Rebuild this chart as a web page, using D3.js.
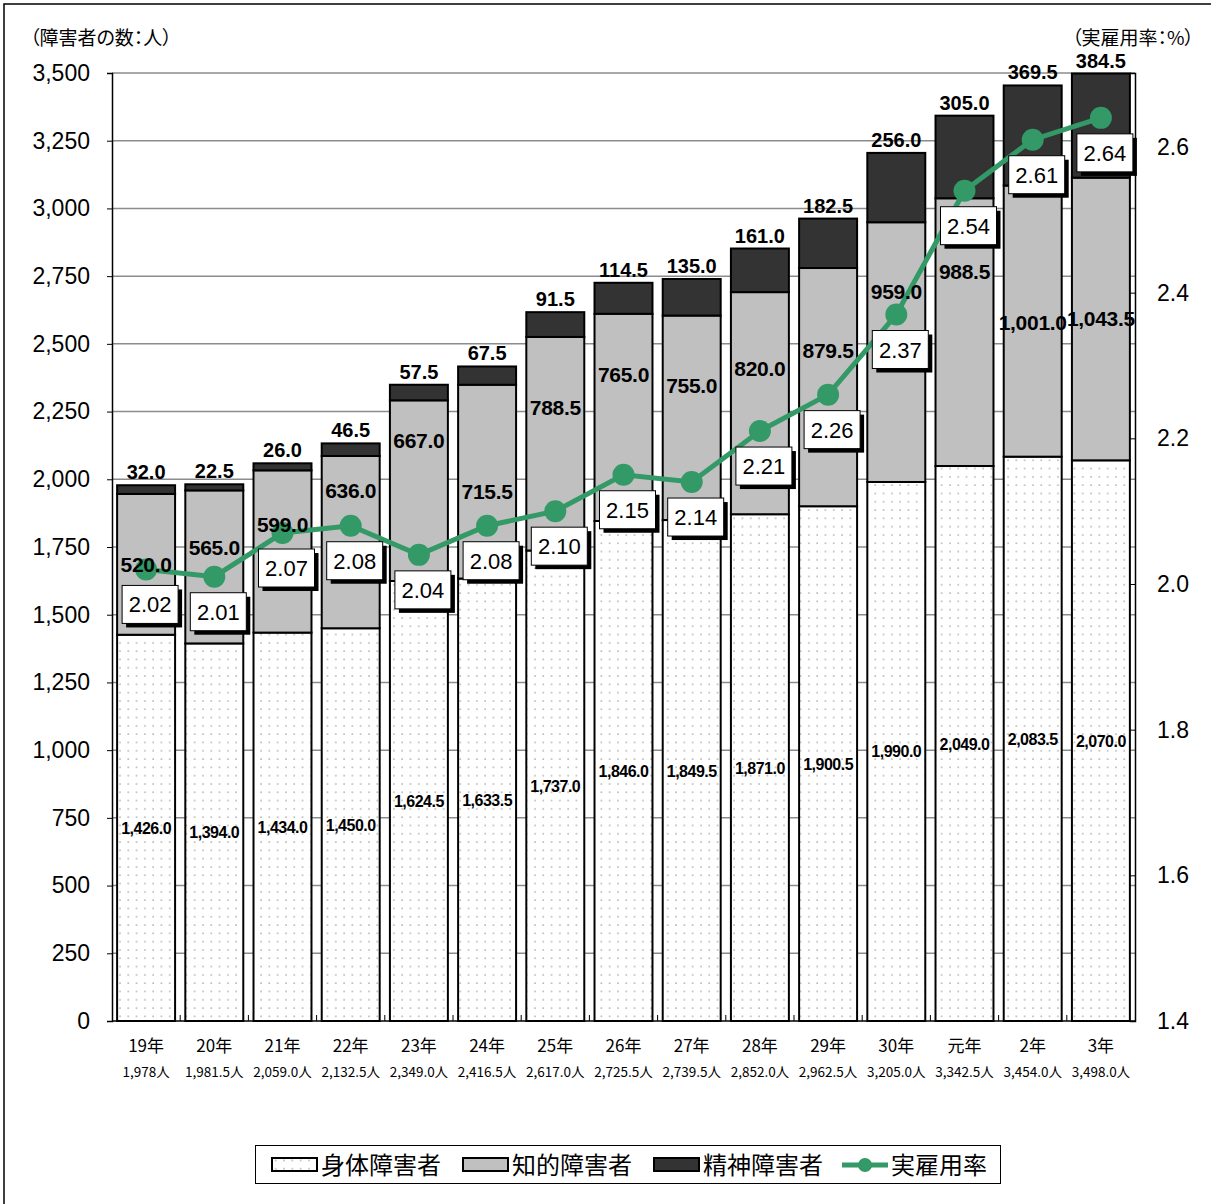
<!DOCTYPE html>
<html><head><meta charset="utf-8">
<script src="https://cdn.jsdelivr.net/npm/d3@7"></script>
<style>
body{margin:0;background:#fff;}
text{font-family:"Liberation Sans",Arial,sans-serif;}
.jp{font-family:"Noto Sans CJK JP","Noto Sans",sans-serif;font-feature-settings:"palt";}
</style></head>
<body><svg id="c" width="1211" height="1204"></svg>
<script>
const categories = ["19年","20年","21年","22年","23年","24年","25年","26年","27年","28年","29年","30年","元年","2年","3年"];
const totalLabels = ["1,978人","1,981.5人","2,059.0人","2,132.5人","2,349.0人","2,416.5人","2,617.0人","2,725.5人","2,739.5人","2,852.0人","2,962.5人","3,205.0人","3,342.5人","3,454.0人","3,498.0人"];
const physical = [1426,1394,1434,1450,1624.5,1633.5,1737,1846,1849.5,1871,1900.5,1990,2049,2083.5,2070];
const intellectual = [520,565,599,636,667,715.5,788.5,765,755,820,879.5,959,988.5,1001,1043.5];
const mental = [32,22.5,26,46.5,57.5,67.5,91.5,114.5,135,161,182.5,256,305,369.5,384.5];
const rate = [2.02,2.01,2.07,2.08,2.04,2.08,2.10,2.15,2.14,2.21,2.26,2.37,2.54,2.61,2.64];
const leftTicks = [0,250,500,750,1000,1250,1500,1750,2000,2250,2500,2750,3000,3250,3500];
const rightTicks = [1.4,1.6,1.8,2.0,2.2,2.4,2.6];
const seriesNames = ["身体障害者","知的障害者","精神障害者","実雇用率"];
// layout: manual vertical shift (px) of the intellectual labels relative to segment centre
const intelLabelShift = [1,-19,-26,-51,-50,10,-36,-42,-32,-34,-36,-60,-60,2,0];

const svg = d3.select("#c");
const L = 112, R = 1135, T = 73, B = 1021;
const x = d3.scaleBand().domain(categories).range([L,R]).paddingInner(0.15).paddingOuter(0.075);
const y = d3.scaleLinear().domain([0,3500]).range([B,T]);
const y2 = d3.scaleLinear().domain([1.4,1.4+1.2*(B-T)/874]).range([B,T]);
const green = "#339966";

// outer frame
svg.append("rect").attr("x",4).attr("y",4).attr("width",1300).attr("height",1300)
  .attr("fill","none").attr("stroke","#000").attr("stroke-width",1.5);

// pattern
const defs = svg.append("defs");
const pat = defs.append("pattern").attr("id","dots").attr("patternUnits","userSpaceOnUse")
  .attr("width",8.3).attr("height",8.3);
pat.append("rect").attr("width",8.3).attr("height",8.3).attr("fill","#fff");
pat.append("rect").attr("x",3).attr("y",3).attr("width",1.6).attr("height",1.6).attr("fill","#b8b8b8");

// gridlines
svg.append("g").selectAll("line").data(leftTicks.filter(d=>d>0)).join("line")
  .attr("x1",L).attr("x2",R).attr("y1",d=>y(d)).attr("y2",d=>y(d))
  .attr("stroke","#8c8c8c").attr("stroke-width",1.5);

// left axis
const gl = svg.append("g").attr("transform",`translate(${L},0)`)
  .call(d3.axisLeft(y).tickValues(leftTicks).tickSize(5).tickPadding(17).tickFormat(d3.format(",")));
gl.select(".domain").attr("stroke","#000").attr("stroke-width",1.5);
gl.selectAll(".tick line").attr("stroke","#000");
gl.selectAll("text").attr("font-size",23).attr("fill","#000").attr("font-family","Liberation Sans, Arial, sans-serif");

// right axis
const gr = svg.append("g").attr("transform",`translate(${R},0)`)
  .call(d3.axisRight(y2).tickValues(rightTicks).tickSize(-5).tickPadding(22).tickFormat(d3.format(".1f")));
gr.select(".domain").attr("stroke","#000").attr("stroke-width",1.5);
gr.selectAll(".tick line").attr("stroke","#000");
gr.selectAll("text").attr("font-size",23).attr("fill","#000").attr("font-family","Liberation Sans, Arial, sans-serif");

// bars
const stackData = categories.map((c,i)=>({c,p:physical[i],n:intellectual[i],m:mental[i]}));
const segs = [
  {key:"p", base:d=>0, fill:"url(#dots)"},
  {key:"n", base:d=>d.p, fill:"#c0c0c0"},
  {key:"m", base:d=>d.p+d.n, fill:"#333333"}
];
segs.forEach(s=>{
  svg.append("g").selectAll("rect").data(stackData).join("rect")
    .attr("x",d=>x(d.c)).attr("width",x.bandwidth())
    .attr("y",d=>y(s.base(d)+d[s.key]))
    .attr("height",d=>y(s.base(d))-y(s.base(d)+d[s.key]))
    .attr("fill",s.fill).attr("stroke","#000").attr("stroke-width",2);
});

// x axis baseline and separators
svg.append("line").attr("x1",L).attr("x2",R).attr("y1",B).attr("y2",B).attr("stroke","#000").attr("stroke-width",1.5);
const step = x.step();
const sepX = d => x(categories[d]) - x.paddingInner()*step/2;
svg.append("g").selectAll("line").data(d3.range(1,categories.length)).join("line")
  .attr("x1",sepX).attr("x2",sepX)
  .attr("y1",B).attr("y2",B-6).attr("stroke","#000").attr("stroke-width",1);

// category labels
const cx = c=>x(c)+x.bandwidth()/2;
svg.append("g").selectAll("text").data(categories).join("text")
  .attr("class","jp").attr("x",cx).attr("y",1052).attr("text-anchor","middle")
  .attr("font-size",17).text(d=>d);
svg.append("g").selectAll("text").data(categories).join("text")
  .attr("class","jp").attr("x",cx).attr("y",1077).attr("text-anchor","middle")
  .attr("font-size",13.5).text((d,i)=>totalLabels[i]);

// value labels
svg.append("g").selectAll("text").data(stackData).join("text")
  .attr("x",d=>cx(d.c)).attr("y",d=>y(d.p/2)+6).attr("text-anchor","middle")
  .attr("font-size",16).attr("font-weight","bold").attr("letter-spacing",-0.5)
  .text(d=>d3.format(",.1f")(d.p));
svg.append("g").selectAll("text").data(stackData).join("text")
  .attr("x",d=>cx(d.c)).attr("y",d=>y(d.p+d.m+d.n)-6).attr("text-anchor","middle")
  .attr("font-size",20).attr("font-weight","bold")
  .text(d=>d3.format(",.1f")(d.m));

// rate line
const pts = categories.map((c,i)=>({c,v:rate[i]}));
svg.append("path").datum(pts)
  .attr("d",d3.line().x(d=>cx(d.c)).y(d=>y2(d.v)))
  .attr("fill","none").attr("stroke",green).attr("stroke-width",5);
svg.append("g").selectAll("circle").data(pts).join("circle")
  .attr("cx",d=>cx(d.c)).attr("cy",d=>y2(d.v)).attr("r",11).attr("fill",green);

// intellectual labels (above line)
svg.append("g").selectAll("text").data(stackData).join("text")
  .attr("x",d=>cx(d.c)).attr("y",(d,i)=>y(d.p+d.n/2)+7+intelLabelShift[i]).attr("text-anchor","middle")
  .attr("font-size",21).attr("font-weight","bold").attr("letter-spacing",-0.3)
  .text(d=>d3.format(",.1f")(d.n));

// rate label boxes
const bw = 56, bh = 38;
const lb = svg.append("g").selectAll("g").data(pts).join("g")
  .attr("transform",d=>`translate(${cx(d.c)+4},${y2(d.v)+35})`);
lb.append("rect").attr("x",-bw/2+4).attr("y",-bh/2+4).attr("width",bw).attr("height",bh).attr("fill","#000");
lb.append("rect").attr("x",-bw/2).attr("y",-bh/2).attr("width",bw).attr("height",bh)
  .attr("fill","#fff").attr("stroke","#000").attr("stroke-width",1);
lb.append("text").attr("text-anchor","middle").attr("y",8).attr("font-size",22).text(d=>d3.format(".2f")(d.v));

// axis titles
svg.append("text").attr("class","jp").attr("x",30).attr("y",45).attr("font-size",19).text("（障害者の数：人）");
svg.append("text").attr("class","jp").attr("x",1194).attr("y",45).attr("text-anchor","end").attr("font-size",19).text("（実雇用率：%）");

// legend
const lg = svg.append("g");
lg.append("rect").attr("x",255.5).attr("y",1145.5).attr("width",745).attr("height",38)
  .attr("fill","#fff").attr("stroke","#000").attr("stroke-width",1);
const legX = [272,463,654,842];
const legFill = ["url(#dots)","#c0c0c0","#333333"];
seriesNames.forEach((n,i)=>{
  const g = lg.append("g").attr("transform",`translate(${legX[i]},1165)`);
  if(i<3){
    g.append("rect").attr("x",0).attr("y",-7).attr("width",45).attr("height",13)
      .attr("fill",legFill[i]).attr("stroke","#000").attr("stroke-width",2);
  } else {
    g.append("line").attr("x1",0).attr("x2",46).attr("y1",0).attr("y2",0).attr("stroke",green).attr("stroke-width",5);
    g.append("circle").attr("cx",23).attr("cy",0).attr("r",7).attr("fill",green);
  }
  g.append("text").attr("class","jp").attr("x",49).attr("y",9).attr("font-size",24).text(n);
});
</script></body></html>
